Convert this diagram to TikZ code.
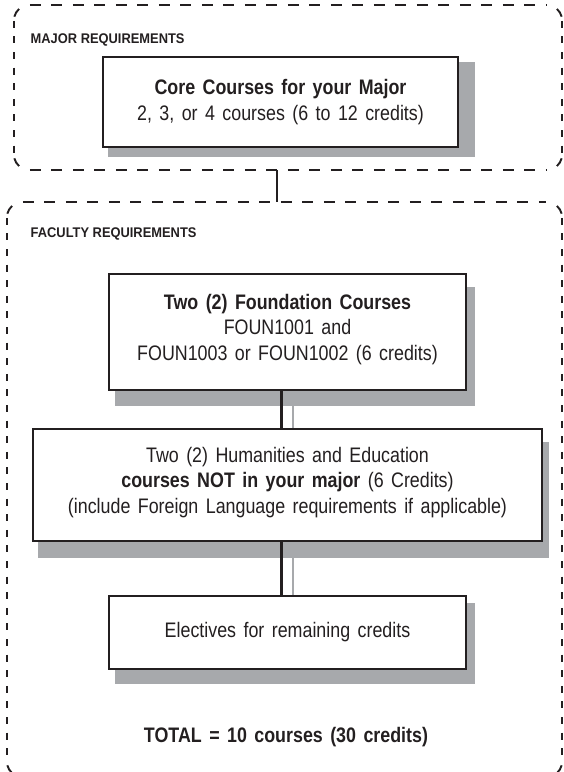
\documentclass[tikz,border=0pt]{standalone}
\usepackage{fontspec}
\setmainfont{Liberation Sans}[FakeStretch=0.85,WordSpace=1.5]
\newfontfamily\hdrfont{Liberation Sans}[FakeStretch=0.92]
\usetikzlibrary{backgrounds}
\definecolor{ink}{HTML}{231F20}
\definecolor{shade}{HTML}{A7A9AC}
\definecolor{shadeline}{HTML}{A7A9AC}
\newcommand\bodyfont{\fontsize{21}{25.5}\selectfont}
\newcommand\lift{\rule[-10pt]{0pt}{10pt}}
\tikzset{
  crsbox/.style={draw=ink, line width=2.4pt, fill=white, rectangle, inner sep=0pt,
    align=center, font=\bodyfont, text=ink},
  container/.style={draw=none, rectangle, inner sep=0pt},
  shadowfill/.style={fill=shade, draw=none},
  contline/.style={draw=ink, line width=1.9pt},
  hdash/.style={dash pattern=on 11pt off 10.5pt},
  vdash/.style={dash pattern=on 7pt off 8.6pt},
  link/.style={draw=ink, line width=2.2pt},
  glink/.style={draw=shadeline, line width=2.4pt},
  hdr/.style={anchor=base west, inner sep=0pt, text=ink, font=\hdrfont\bfseries\fontsize{14}{16}\selectfont},
}
\newcommand\contsides[1]{%
  \coordinate (#1tl) at ([shift={(16,16)}]#1.north west);
  \coordinate (#1tr) at ([shift={(-16,16)}]#1.north east);
  \coordinate (#1br) at ([shift={(-16,-16)}]#1.south east);
  \coordinate (#1bl) at ([shift={(16,-16)}]#1.south west);
  \draw[contline,hdash] ([shift={(16,0)}]#1.north west) -- ([shift={(-16,0)}]#1.north east);
  \draw[contline,hdash] ([shift={(16,0)}]#1.south west) -- ([shift={(-16,0)}]#1.south east);
  \draw[contline,vdash] ([shift={(0,16)}]#1.north west) -- ([shift={(0,-16)}]#1.south west);
  \draw[contline,vdash] ([shift={(0,16)}]#1.north east) -- ([shift={(0,-16)}]#1.south east);
  \draw[contline] ([shift={(195:16)}]#1tl) arc[start angle=195,end angle=228,radius=16];
  \draw[contline] ([shift={(312:16)}]#1tr) arc[start angle=312,end angle=345,radius=16];
  \draw[contline] ([shift={(15:16)}]#1br) arc[start angle=15,end angle=48,radius=16];
  \draw[contline] ([shift={(132:16)}]#1bl) arc[start angle=132,end angle=165,radius=16];
}
\begin{document}
\begin{tikzpicture}[x=1pt,y=-1pt]
\useasboundingbox (0,0) rectangle (563,772);

% containers
\node[container, minimum width=548, minimum height=165] (major) at (288,87.5) {};
\node[container, minimum width=555, minimum height=575] (faculty) at (284.5,489.5) {};
\contsides{major}
\contsides{faculty}

\node[hdr] (majhdr) at (30.5,43) {MAJOR REQUIREMENTS};
\node[hdr] (fachdr) at (30.5,237) {FACULTY REQUIREMENTS};

% course boxes
\node[crsbox, minimum width=355, minimum height=90] (core) at (280.5,102)
  {\textbf{Core Courses for your Major}\\2, 3, or 4 courses (6 to 12 credits)\rule[-4pt]{0pt}{4pt}};
\node[crsbox, minimum width=357, minimum height=116] (found) at (287.5,332)
  {\textbf{Two (2) Foundation Courses}\\FOUN1001 and\\FOUN1003 or FOUN1002 (6 credits)\lift};
\node[crsbox, minimum width=509, minimum height=112] (hum) at (287.5,485)
  {Two (2) Humanities and Education\\\textbf{courses NOT in your major} (6 Credits)\\(include Foreign Language requirements if applicable)\lift};
\node[crsbox, minimum width=357, minimum height=73] (elec) at (287.5,632.5)
  {Electives for remaining credits};

\node[anchor=base, inner sep=0pt, text=ink, font=\bodyfont\bfseries] (total) at (286,742)
  {TOTAL = 10 courses (30 credits)};

\begin{scope}[on background layer]
  \fill[shadowfill] ([shift={(6,6)}]core.north west) rectangle ([shift={(16,9)}]core.south east);
  \fill[shadowfill] ([shift={(7,14)}]found.north west) rectangle ([shift={(8,15)}]found.south east);
  \fill[shadowfill] ([shift={(6,14)}]hum.north west) rectangle ([shift={(6,16)}]hum.south east);
  \fill[shadowfill] ([shift={(7,8)}]elec.north west) rectangle ([shift={(8,14)}]elec.south east);
  \draw[glink] ([shift={(5.5,15)}]found.south) -- ([shift={(5.5,0)}]found.south |- hum.north);
  \draw[glink] ([shift={(5.5,16)}]hum.south) -- ([shift={(5.5,0)}]hum.south |- elec.north);
  \draw[link] ([shift={(-6,0)}]found.south) -- ([shift={(-6,0)}]found.south |- hum.north);
  \draw[link] ([shift={(-6,0)}]hum.south) -- ([shift={(-6,0)}]hum.south |- elec.north);
  \draw[link] ([shift={(-11,0)}]major.south) -- ([shift={(-11,0)}]major.south |- faculty.north);
\end{scope}
\end{tikzpicture}
\end{document}
